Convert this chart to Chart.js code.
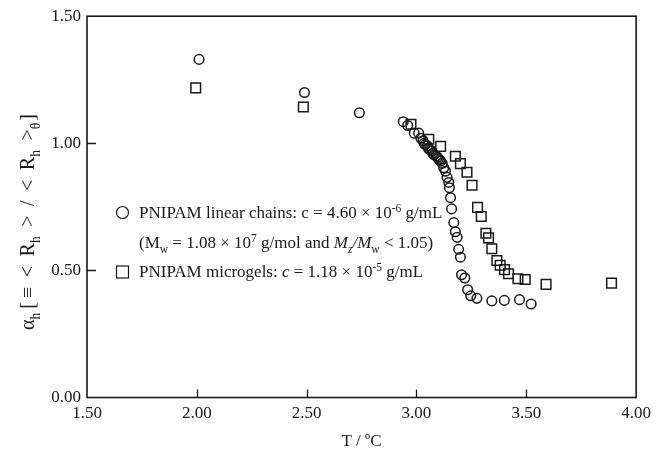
<!DOCTYPE html>
<html>
<head>
<meta charset="utf-8">
<script src="https://cdn.jsdelivr.net/npm/chart.js@4.4.1/dist/chart.umd.min.js"></script>
<style>
html,body{margin:0;padding:0;background:#fff;}
canvas{display:block;}
</style>
</head>
<body>
<canvas id="c" width="657" height="458"></canvas>
<script>
// ---- data ----
const chainsT = [2.01, 2.49, 2.74, 2.94, 2.96, 2.99, 3.01, 3.02, 3.03, 3.035, 3.04, 3.05, 3.055, 3.06, 3.07, 3.075, 3.08, 3.09, 3.095, 3.10, 3.105, 3.11, 3.117, 3.124, 3.132, 3.139, 3.147, 3.15, 3.155, 3.16, 3.17, 3.177, 3.185, 3.192, 3.20, 3.205, 3.22, 3.233, 3.247, 3.275, 3.343, 3.40, 3.469, 3.522];
const chainsA = [1.33, 1.20, 1.12, 1.085, 1.07, 1.04, 1.04, 1.02, 1.01, 1.00, 0.995, 0.99, 0.98, 0.975, 0.97, 0.96, 0.955, 0.95, 0.945, 0.94, 0.935, 0.93, 0.921, 0.904, 0.89, 0.866, 0.846, 0.825, 0.786, 0.742, 0.688, 0.652, 0.63, 0.583, 0.552, 0.483, 0.47, 0.424, 0.40, 0.39, 0.38, 0.382, 0.385, 0.368];
const gelsT = [1.995, 2.485, 2.975, 3.056, 3.11, 3.177, 3.20, 3.23, 3.253, 3.278, 3.295, 3.316, 3.328, 3.343, 3.366, 3.381, 3.401, 3.419, 3.462, 3.495, 3.59, 3.888];
const gelsA = [1.218, 1.143, 1.075, 1.016, 0.988, 0.949, 0.92, 0.886, 0.835, 0.748, 0.712, 0.646, 0.628, 0.585, 0.539, 0.52, 0.503, 0.487, 0.467, 0.464, 0.445, 0.45];
const xTickValues = [1.5, 2.0, 2.5, 3.0, 3.5, 4.0];
const yTickValues = [0.0, 0.5, 1.0, 1.5];

const SERIF = '"Liberation Serif", "Times New Roman", serif';
const INK = '#1a1a1a';

function pts(xs, ys) { return xs.map((x, i) => ({ x: x, y: ys[i] })); }

function segFont(s, size) {
  const fs = s.p ? size * 0.68 : size;
  return (s.i ? 'italic ' : '') + fs + 'px ' + SERIF;
}
function drawRich(ctx, x, y, segs, size) {
  for (const s of segs) {
    if (s.g) { x += s.g; continue; }
    ctx.font = segFont(s, size);
    const dy = s.p === 'sub' ? size * 0.3 : (s.p === 'sup' ? -size * 0.38 : 0);
    ctx.fillText(s.t, x, y + dy);
    x += ctx.measureText(s.t).width;
  }
  return x;
}
function richWidth(ctx, segs, size) {
  let w = 0;
  for (const s of segs) {
    if (s.g) { w += s.g; continue; }
    ctx.font = segFont(s, size);
    w += ctx.measureText(s.t).width;
  }
  return w;
}

const decor = {
  id: 'decor',
  afterDraw(chart) {
    const ctx = chart.ctx;
    const a = chart.chartArea;
    const xs = chart.scales.x, ys = chart.scales.y;
    ctx.save();
    // frame
    ctx.strokeStyle = INK;
    ctx.lineWidth = 1.6;
    ctx.strokeRect(a.left, a.top, a.right - a.left, a.bottom - a.top);
    // inward ticks
    ctx.lineWidth = 1.3;
    ctx.beginPath();
    xTickValues.slice(1, -1).forEach(v => {
      const px = Math.round(xs.getPixelForValue(v)) + 0.5;
      ctx.moveTo(px, a.bottom); ctx.lineTo(px, a.bottom - 8);
    });
    yTickValues.slice(1, -1).forEach(v => {
      const py = Math.round(ys.getPixelForValue(v)) + 0.5;
      ctx.moveTo(a.left, py); ctx.lineTo(a.left + 9, py);
    });
    ctx.stroke();

    ctx.fillStyle = INK;
    ctx.textBaseline = 'alphabetic';
    ctx.textAlign = 'left';
    // x title
    ctx.font = '17px ' + SERIF;
    const xt = 'T / ºC';
    const xw = ctx.measureText(xt).width;
    ctx.fillText(xt, (a.left + a.right) / 2 - xw / 2, 446);

    // y title (rotated)
    const G = 9.5;
    const ySegs = [
      { t: 'α' }, { t: 'h', p: 'sub' }, { g: 4 }, { t: '[' }, { g: 4 }, { t: '≡' }, { g: G },
      { t: '<' }, { g: G }, { t: 'R' }, { t: 'h', p: 'sub' }, { g: G }, { t: '>' }, { g: G },
      { t: '/' }, { g: G }, { t: '<' }, { g: G }, { t: 'R' }, { t: 'h', p: 'sub' }, { g: G },
      { t: '>' }, { t: 'θ', p: 'sub' }, { g: 2 }, { t: ']' }
    ];
    const ysz = 20;
    const yw = richWidth(ctx, ySegs, ysz);
    ctx.save();
    ctx.translate(34, 222);
    ctx.rotate(-Math.PI / 2);
    drawRich(ctx, -yw / 2, 0, ySegs, ysz);
    ctx.restore();

    // legend
    const lsz = 17;
    const tx = 139;
    drawRich(ctx, tx, 218, [
      { t: 'PNIPAM linear chains: c = 4.60 × 10' }, { t: '-6', p: 'sup' }, { t: ' g/mL' }
    ], lsz);
    drawRich(ctx, tx, 248, [
      { t: '(M' }, { t: 'w', p: 'sub' }, { t: ' = 1.08 × 10' }, { t: '7', p: 'sup' },
      { t: ' g/mol and ' }, { t: 'M', i: true }, { t: 'z', i: true, p: 'sub' }, { t: '/', i: true },
      { t: 'M', i: true }, { t: 'w', p: 'sub' }, { t: ' < 1.05)' }
    ], lsz);
    drawRich(ctx, tx, 277, [
      { t: 'PNIPAM microgels: ' }, { t: 'c', i: true }, { t: ' = 1.18 × 10' }, { t: '-5', p: 'sup' }, { t: ' g/mL' }
    ], lsz);
    // legend symbols
    ctx.strokeStyle = INK;
    ctx.lineWidth = 1.2;
    ctx.beginPath();
    ctx.arc(122.5, 212.5, 6, 0, Math.PI * 2);
    ctx.stroke();
    ctx.strokeRect(116.5, 266, 12, 12);
    ctx.restore();
  }
};

const tickFont = { family: SERIF, size: 17 };

new Chart(document.getElementById('c'), {
  type: 'scatter',
  data: {
    datasets: [
      {
        label: 'PNIPAM linear chains',
        data: pts(chainsT, chainsA),
        pointStyle: 'circle',
        pointRadius: 4.8,
        pointBorderWidth: 1.5,
        borderColor: INK,
        backgroundColor: 'rgba(255,255,255,0)',
        showLine: false
      },
      {
        label: 'PNIPAM microgels',
        data: pts(gelsT, gelsA),
        pointStyle: 'rect',
        pointRadius: 6.8,
        pointBorderWidth: 1.5,
        borderColor: INK,
        backgroundColor: 'rgba(255,255,255,0)',
        showLine: false
      }
    ]
  },
  options: {
    responsive: false,
    animation: false,
    devicePixelRatio: 1,
    layout: { padding: { top: 15, right: 19, left: 0, bottom: 0 } },
    plugins: { legend: { display: false }, tooltip: { enabled: false } },
    scales: {
      x: {
        type: 'linear', min: 1.5, max: 4.0,
        afterBuildTicks: s => { s.ticks = xTickValues.map(v => ({ value: v })); },
        afterFit: s => { s.height = 60.5; },
        grid: { display: false, drawTicks: false },
        border: { display: false },
        ticks: { font: tickFont, color: INK, padding: 6, maxRotation: 0, autoSkip: false,
                 callback: v => Number(v).toFixed(2) }
      },
      y: {
        type: 'linear', min: 0, max: 1.5,
        afterBuildTicks: s => { s.ticks = yTickValues.map(v => ({ value: v })); },
        afterFit: s => { s.width = 87; },
        grid: { display: false, drawTicks: false },
        border: { display: false },
        ticks: { font: tickFont, color: INK, padding: 6, autoSkip: false,
                 callback: v => Number(v).toFixed(2) }
      }
    }
  },
  plugins: [decor]
});
</script>
</body>
</html>
